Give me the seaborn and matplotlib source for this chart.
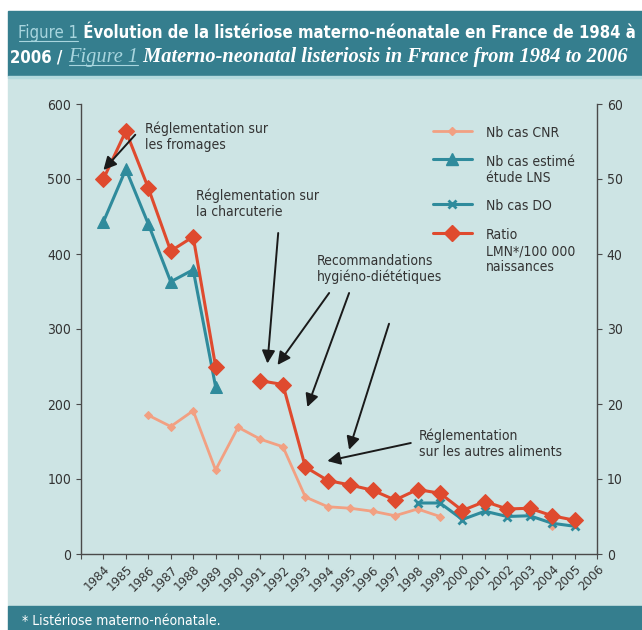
"""Materno-neonatal listeriosis in France, 1984-2006.

Case counts from three sources (left axis) and the LMN ratio per 100 000 births (right axis),
with the regulatory milestones marked by arrows.
"""

import matplotlib

matplotlib.use("Agg")
import matplotlib.pyplot as plt  # noqa: E402
import numpy as np  # noqa: E402
import pandas as pd  # noqa: E402
import seaborn as sns  # noqa: E402
from matplotlib.lines import Line2D  # noqa: E402
from matplotlib.patches import Rectangle  # noqa: E402

W, H = 642, 630  # output size in pixels (dpi 100)

NAN = np.nan
YEARS = list(range(1984, 2007))
CNR_CASES = [NAN, NAN, 185, 170, 191, 112, 169, 153, 143, 76, 63, 61,
             57, 51, 60, 50, NAN, NAN, NAN, NAN, 37, NAN, NAN]
LNS_CASES = [443, 513, 440, 363, 379, 223, NAN, NAN, NAN, NAN, NAN, NAN,
             NAN, NAN, NAN, NAN, NAN, NAN, NAN, NAN, NAN, NAN, NAN]
DO_CASES = [NAN, NAN, NAN, NAN, NAN, NAN, NAN, NAN, NAN, NAN, NAN, NAN,
            NAN, NAN, 68, 68, 46, 57, 50, 51, 41, 37, NAN]
LMN_RATIO = [50.0, 56.4, 48.8, 40.4, 42.3, 25.0, NAN, 23.1, 22.6, 11.6, 9.8, 9.2,
             8.5, 7.2, 8.6, 8.1, 5.8, 7.0, 6.0, 6.1, 5.1, 4.5, NAN]
LEGEND_LABELS = ["Nb cas CNR", "Nb cas estimé\nétude LNS", "Nb cas DO",
                 "Ratio\nLMN*/100 000\nnaissances"]

BG = "#cde4e4"
BAND = "#357e8e"
PALE = "#a8d5de"
SALMON = "#f2a082"
TEAL = "#2f8b9c"
RED = "#df4a2e"
INK = "#333333"
SPINE = "#4a4a4a"
ARROW = "#1a1a1a"
SERIF = ["Liberation Serif", "DejaVu Serif"]

sns.set_style("ticks")
plt.rcParams["font.family"] = ["DejaVu Sans"]
plt.rcParams.update({
    "font.stretch": "condensed",
    "axes.edgecolor": SPINE, "axes.linewidth": 1.0,
    "xtick.color": SPINE, "ytick.color": SPINE,
    "xtick.labelcolor": INK, "ytick.labelcolor": INK,
    "xtick.labelsize": 9.5, "ytick.labelsize": 10,
    "xtick.major.size": 3.5, "ytick.major.size": 3.5,
})


def fx(px):
    return px / W


def fy(py):
    return 1 - py / H


def _series(values):
    """Long table for one series; a new unit starts after every gap so the line breaks there."""
    s = pd.Series(values, dtype=float)
    df = pd.DataFrame({"year": YEARS, "value": s.values, "unit": s.isna().cumsum().values})
    return df.dropna(subset=["value"])


def _title_line(fig, renderer, x0, baseline, right, parts):
    """Mixed-style pieces on one baseline. Pieces flagged `fit` are rescaled together so the
    line runs from x0 to `right` px; the others keep their size. Returns the scale used."""
    texts = [fig.text(0, 0, p[0], va="baseline", ha="left", **p[1]) for p in parts]
    widths = [t.get_window_extent(renderer).width for t in texts]
    fixed = sum(w for w, p in zip(widths, parts) if not p[3])
    flex = sum(w for w, p in zip(widths, parts) if p[3])
    k = (right - x0 - fixed) / flex
    x = x0
    for t, (_, _, underline, fit) in zip(texts, parts):
        if fit:
            t.set_fontsize(t.get_fontsize() * k)
        t.set_position((fx(x), fy(baseline)))
        w = t.get_window_extent(renderer).width
        if underline:
            fig.add_artist(Line2D([fx(x + 1), fx(x + w)], [fy(baseline + 2.5)] * 2,
                                  color=t.get_color(), lw=0.8))
        x += w
    return k


def plot_listeriosis():
    fig = plt.figure(figsize=(W / 100, H / 100), dpi=100)
    fig.add_artist(Rectangle((fx(8), fy(606)), fx(634), (606 - 77) / H, color=BG, zorder=-3))
    fig.add_artist(Rectangle((fx(8), fy(76)), fx(634), 65 / H, color=BAND, zorder=-2))
    fig.add_artist(Rectangle((fx(8), fy(78)), fx(634), 2 / H, color="#b3d9dd", zorder=-2))
    fig.add_artist(Rectangle((fx(8), 0), fx(634), fy(606), color=BAND, zorder=-2))

    ax = fig.add_axes([fx(81), fy(554), fx(597 - 81), (554 - 104) / H])
    ax.set_facecolor("none")
    ax2 = ax.twinx()

    sns.lineplot(data=_series(CNR_CASES), x="year", y="value", units="unit", estimator=None,
                 color=SALMON, lw=2, marker="D", ms=4.5, mec=SALMON, ax=ax)
    sns.lineplot(data=_series(LNS_CASES), x="year", y="value", units="unit", estimator=None,
                 color=TEAL, lw=2.2, marker="^", ms=8.5, mec=TEAL, ax=ax)
    sns.lineplot(data=_series(DO_CASES), x="year", y="value", units="unit", estimator=None,
                 color=TEAL, lw=2.2, marker="x", ms=6, mew=2, mec=TEAL, ax=ax)
    sns.lineplot(data=_series(LMN_RATIO), x="year", y="value", units="unit", estimator=None,
                 color=RED, lw=2.2, marker="D", ms=8, mec=RED, ax=ax2)

    ax.set_xlim(1983, 2006)
    ax.set_ylim(0, 600)
    ax2.set_ylim(0, 60)
    ax.set_xticks(range(1983, 2007))
    ax.set_xticklabels([""] + [str(y) for y in YEARS], rotation=45, ha="right",
                       rotation_mode="anchor")
    ax.set_yticks(range(0, 601, 100))
    ax2.set_yticks(range(0, 61, 10))
    ax.set(xlabel="", ylabel="")
    ax2.set(xlabel="", ylabel="")
    ax.tick_params(axis="x", pad=3)
    ax.spines[["top", "right"]].set_visible(False)
    ax2.spines[["top", "left", "bottom"]].set_visible(False)

    # milestone labels and arrows, in left-axis units
    notes = [
        ("Réglementation sur\nles fromages", (1985.87, 576)),
        ("Réglementation sur\nla charcuterie", (1988.14, 487)),
        ("Recommandations\nhygiéno-diététiques", (1993.53, 400)),
        ("Réglementation\nsur les autres aliments", (1998.07, 167)),
    ]
    for text, xy in notes:
        ax2.text(*xy, text, transform=ax.transData, fontsize=10, color=INK, va="top",
                 ha="left", linespacing=1.15)
    arrows = [
        ((1985.42, 559), (1984.0, 512)),
        ((1991.79, 428), (1991.31, 254)),
        ((1994.06, 348), (1991.76, 252)),
        ((1994.95, 348), (1993.09, 196)),
        ((1996.73, 307), (1994.95, 139)),
        ((1997.70, 148), (1993.98, 124)),
    ]
    for tail, head in arrows:
        ax2.annotate("", xy=head, xytext=tail, xycoords=ax.transData, textcoords=ax.transData,
                     arrowprops=dict(arrowstyle="-|>,head_length=0.55,head_width=0.28",
                                     mutation_scale=14, lw=1.4, color=ARROW,
                                     shrinkA=0, shrinkB=0))

    handles = [
        Line2D([], [], color=SALMON, lw=2, marker="D", ms=4.5),
        Line2D([], [], color=TEAL, lw=2.2, marker="^", ms=8.5),
        Line2D([], [], color=TEAL, lw=2.2, marker="x", ms=6, mew=2),
        Line2D([], [], color=RED, lw=2.2, marker="D", ms=8),
    ]
    leg = ax2.legend(handles, LEGEND_LABELS, loc="upper left", frameon=False,
                     bbox_to_anchor=(fx(433), fy(126)), bbox_transform=fig.transFigure,
                     borderpad=0, borderaxespad=0, handlelength=2.8, handletextpad=1.0,
                     labelspacing=1.05, fontsize=10)
    for text in leg.get_texts():
        text.set_color(INK)
    for column in leg._legend_handle_box.get_children():
        for row in column.get_children():
            row.align = "top"

    renderer = fig.canvas.get_renderer()
    k = _title_line(fig, renderer, 18, 38.5, 637, [
        ("Figure 1", dict(color=PALE, fontsize=13), True, True),
        (" Évolution de la listériose materno-néonatale en France de 1984 à",
         dict(color="white", fontweight="bold", fontsize=13), False, True),
    ])
    size = 13 * k
    _title_line(fig, renderer, 10, 62, 625, [
        ("2006 / ", dict(color="white", fontweight="bold", fontsize=size), False, False),
        ("Figure 1", dict(color=PALE, fontsize=size, family=SERIF, style="italic",
                          stretch="normal"), True, True),
        (" Materno-neonatal listeriosis in France from 1984 to 2006",
         dict(color="white", fontsize=size, family=SERIF, style="italic", fontweight="bold",
              stretch="normal"), False, True),
    ])
    fig.text(fx(22), fy(625), "* Listériose materno-néonatale.", color="white", fontsize=10,
             va="baseline")

    fig.savefig("out.png", dpi=100, facecolor="white")
    plt.close(fig)


if __name__ == "__main__":
    plot_listeriosis()
